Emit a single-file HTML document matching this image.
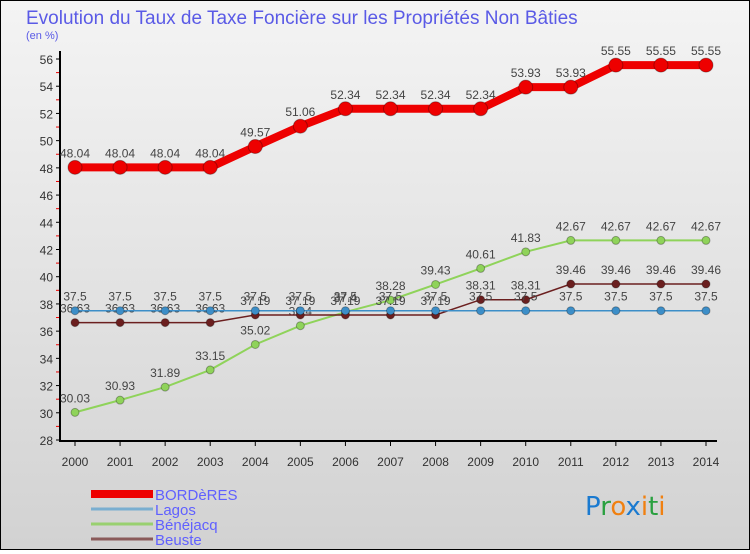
<!DOCTYPE html>
<html><head><meta charset="utf-8"><style>
body{margin:0;width:750px;height:550px;overflow:hidden;font-family:"Liberation Sans",sans-serif}
#wrap{position:relative;width:748px;height:548px;border:1px solid #000;background:linear-gradient(#f4f4f4,#d2d2d2)}
</style></head><body>
<div id="wrap">
<svg id="chart" width="748" height="548"></svg>
</div>
<script>
const years=[2000,2001,2002,2003,2004,2005,2006,2007,2008,2009,2010,2011,2012,2013,2014];
const bordeRes=[48.04,48.04,48.04,48.04,49.57,51.06,52.34,52.34,52.34,52.34,53.93,53.93,55.55,55.55,55.55];
const lagos=[37.5,37.5,37.5,37.5,37.5,37.5,37.5,37.5,37.5,37.5,37.5,37.5,37.5,37.5,37.5];
const benejacq=[30.03,30.93,31.89,33.15,35.02,36.4,37.4,38.28,39.43,40.61,41.83,42.67,42.67,42.67,42.67];
const beuste=[36.63,36.63,36.63,36.63,37.19,37.19,37.19,37.19,37.19,38.31,38.31,39.46,39.46,39.46,39.46];
const yTicks=[28,30,32,34,36,38,40,42,44,46,48,50,52,54,56];
const svg=document.getElementById('chart');const NS='http://www.w3.org/2000/svg';
function X(i){return 74+i*(705-74)/14;}
function Y(v){return 439-(v-28)*(439-58)/28;}
function el(t,a,p){const e=document.createElementNS(NS,t);for(const k in a)e.setAttribute(k,a[k]);(p||svg).appendChild(e);return e;}
function txt(x,y,s,size,fill,anchor){const t=el('text',{x:x,y:y,'font-size':size,fill:fill,'text-anchor':anchor||'middle'});t.textContent=s;return t;}
let t=txt(25,23,'Evolution du Taux de Taxe Foncière sur les Propriétés Non Bâties',19,'#5a5ae6','start');


t=txt(25,38,'(en %)',11,'#5a5ae6','start');


let ax=el('line',{x1:59,y1:50,x2:59,y2:441,stroke:'#000','stroke-width':2});


ax=el('line',{x1:59,y1:440,x2:716,y2:440,stroke:'#000','stroke-width':2});


yTicks.forEach(v=>{el('line',{x1:55,y1:Y(v),x2:59,y2:Y(v),stroke:'#000'});
 if(v<56)el('line',{x1:55,y1:Y(v+1),x2:58,y2:Y(v+1),stroke:'#e00'});
 const l=txt(52,Y(v)+5,String(v),12,'#333','end');
 
 });
years.forEach((y,i)=>{el('line',{x1:X(i),y1:440,x2:X(i),y2:445,stroke:'#000'});
 const l=txt(X(i),465,String(y),12,'#333');
 
 });
function series(vals,color,w,r,name){
 const g=el('g',{});
 
 
 el('polyline',{points:vals.map((v,i)=>X(i)+','+Y(v)).join(' '),fill:'none',stroke:color,'stroke-width':w},g);
 vals.forEach((v,i)=>{const c=el('circle',{cx:X(i),cy:Y(v),r:r,fill:color,stroke:'rgba(0,0,0,0.3)'},g);
  
  
  txt(X(i),Y(v)-10,String(v),12,'#444',null).setAttribute('transform','');g.appendChild(svg.lastChild);});
}
series(benejacq,'#8fd35a',2,4,'benejacq-series');
series(beuste,'#6b1f1f',1.5,4,'beuste-series');
series(lagos,'#3c8ec8',1.5,4,'lagos-series');
series(bordeRes,'#ee0000',8,7,'bordères-series');
const leg=[['BORDèRES','#ee0000',8],['Lagos','#7aaed0',3],['Bénéjacq','#99d070',3],['Beuste','#8a5a5a',3]];
leg.forEach((l,i)=>{const g=el('g',{});
 
 
 el('line',{x1:90,y1:493+i*15,x2:152,y2:493+i*15,stroke:l[1],'stroke-width':l[2]},g);
 const tt=txt(154,499+i*15,l[0],15,'#6060ff','start');g.appendChild(tt);});
const logo=el('text',{x:584,y:514,'font-size':26,'font-family':'"DejaVu Sans",sans-serif'});


[['P','#1a7ad0'],['r','#2aa040'],['o','#f08010'],['x','#1a7ad0'],['i','#f08010'],['t','#2aa040'],['i','#f08010']].forEach(p=>{const s=el('tspan',{fill:p[1]},logo);s.textContent=p[0];});
</script>
</body></html>
